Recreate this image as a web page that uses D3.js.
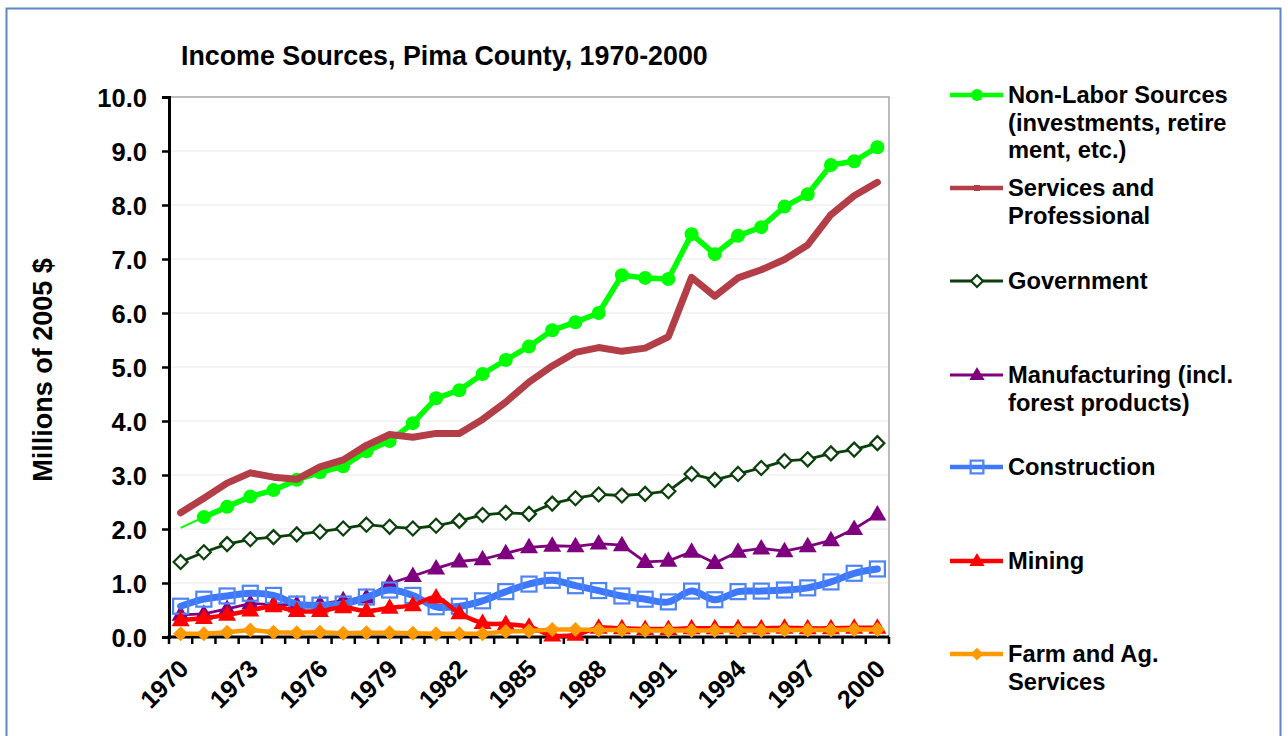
<!DOCTYPE html>
<html>
<head>
<meta charset="utf-8">
<script src="https://cdn.jsdelivr.net/npm/d3@7"></script>
<style>
  body { margin: 0; background: #fff; }
  svg text { font-family: Arial, "Liberation Sans", sans-serif; font-weight: bold; fill: #000; }
</style>
</head>
<body>
<div class="chart"></div>
<script>
// income data, millions of 2005 $
var years = d3.range(1970, 2001);
var tickYears = [1970, 1973, 1976, 1979, 1982, 1985, 1988, 1991, 1994, 1997, 2000];
var yTicks = [0, 1, 2, 3, 4, 5, 6, 7, 8, 9, 10];

var nonLabor = [2.02, 2.22, 2.41, 2.60, 2.72, 2.91, 3.05, 3.16, 3.44, 3.63, 3.96, 4.42, 4.57, 4.87, 5.13, 5.38,
    5.68, 5.83, 6.00, 6.70, 6.65, 6.63, 7.46, 7.09, 7.43, 7.59, 7.97, 8.20, 8.74, 8.81, 9.07];
var services = [2.30, 2.57, 2.85, 3.04, 2.96, 2.92, 3.15, 3.28, 3.55, 3.75, 3.70, 3.77, 3.77, 4.03, 4.35, 4.72,
    5.02, 5.27, 5.36, 5.29, 5.35, 5.56, 6.66, 6.31, 6.65, 6.80, 6.99, 7.26, 7.82, 8.17, 8.42];
var government = [1.39, 1.57, 1.72, 1.81, 1.85, 1.90, 1.95, 2.01, 2.08, 2.04, 2.01, 2.06, 2.15, 2.26, 2.30, 2.28,
    2.47, 2.57, 2.64, 2.62, 2.65, 2.70, 3.02, 2.91, 3.02, 3.13, 3.26, 3.29, 3.40, 3.47, 3.59];
var manufacturing = [0.41, 0.43, 0.52, 0.62, 0.60, 0.60, 0.61, 0.68, 0.73, 0.99, 1.13, 1.27, 1.40, 1.44, 1.55, 1.66,
    1.69, 1.68, 1.73, 1.70, 1.39, 1.41, 1.58, 1.37, 1.58, 1.64, 1.59, 1.68, 1.79, 2.00, 2.27];
var construction = [0.57, 0.70, 0.76, 0.81, 0.77, 0.61, 0.59, 0.61, 0.74, 0.87, 0.77, 0.56, 0.57, 0.67, 0.84, 0.98,
    1.05, 0.95, 0.86, 0.76, 0.70, 0.65, 0.85, 0.69, 0.84, 0.85, 0.87, 0.91, 1.02, 1.18, 1.26];
var mining = [0.31, 0.35, 0.41, 0.49, 0.57, 0.48, 0.48, 0.55, 0.48, 0.54, 0.59, 0.73, 0.44, 0.26, 0.24, 0.19,
    0.03, 0.04, 0.17, 0.16, 0.15, 0.15, 0.16, 0.16, 0.16, 0.16, 0.17, 0.16, 0.16, 0.17, 0.17];
var farm = [0.06, 0.06, 0.09, 0.13, 0.09, 0.08, 0.09, 0.07, 0.08, 0.08, 0.07, 0.06, 0.06, 0.06, 0.10, 0.11,
    0.14, 0.14, 0.13, 0.13, 0.12, 0.12, 0.12, 0.12, 0.12, 0.12, 0.13, 0.13, 0.13, 0.14, 0.14];

var series = [
    { name: ["Non-Labor Sources", "(investments, retire", "ment, etc.)"], values: nonLabor, color: "#00ff00", width: 5.5, marker: "circle", ly: 95 },
    { name: ["Services and", "Professional"], values: services, color: "#b33e47", width: 7, marker: "none", ly: 188 },
    { name: ["Government"], values: government, color: "#0b3f0b", width: 2.8, marker: "diamondOpen", ly: 281 },
    { name: ["Manufacturing (incl.", "forest products)"], values: manufacturing, color: "#7f007f", width: 2.8, marker: "triangle", ly: 375 },
    { name: ["Construction"], values: construction, color: "#3d78ff", width: 7, marker: "squareOpen", smooth: true, ly: 467 },
    { name: ["Mining"], values: mining, color: "#ff0000", width: 4.5, marker: "triangle", smooth: true, ly: 561 },
    { name: ["Farm and Ag.", "Services"], values: farm, color: "#ff9900", width: 4.5, marker: "diamond", ly: 654 }
];

var W = 1288, H = 736;
var margin = { top: 97, left: 169, right: 889, bottom: 637 };

var svg = d3.select(".chart").append("svg")
    .attr("width", W).attr("height", H);

// outer frame
svg.append("rect")
    .attr("x", 6.5).attr("y", 8.5).attr("width", 1274).attr("height", 740)
    .attr("fill", "none").attr("stroke", "#5b87c6").attr("stroke-width", 2);

var x = d3.scaleBand().domain(years).range([margin.left, margin.right]);
var cx = function (yr) { return x(yr) + x.bandwidth() / 2; };
var y = d3.scaleLinear().domain([0, 10]).range([margin.bottom, margin.top]);

// gridlines
svg.append("g").selectAll("line").data(yTicks.slice(1, -1)).join("line")
    .attr("x1", margin.left).attr("x2", margin.right)
    .attr("y1", function (d) { return y(d); }).attr("y2", function (d) { return y(d); })
    .attr("stroke", "#f0f0f0").attr("stroke-width", 1.5);

// plot border top/right
svg.append("path")
    .attr("d", "M" + margin.left + "," + y(10) + "H" + margin.right + "V" + y(0))
    .attr("fill", "none").attr("stroke", "#a6a6a6").attr("stroke-width", 1.5);

// y axis
var yAxis = svg.append("g")
    .attr("transform", "translate(" + margin.left + ",0)")
    .call(d3.axisLeft(y).tickValues(yTicks).tickFormat(d3.format(".1f")).tickSize(7).tickPadding(15));
yAxis.select(".domain").attr("stroke", "#000").attr("stroke-width", 3);
yAxis.selectAll(".tick line").attr("stroke", "#000").attr("stroke-width", 2.5);
yAxis.selectAll("text").style("font-size", "25.5px").attr("fill", "#000").attr("dy", "0.36em");

// x axis: ticks on category boundaries
var xg = svg.append("g");
xg.append("line")
    .attr("x1", margin.left - 1.5).attr("x2", margin.right)
    .attr("y1", y(0)).attr("y2", y(0))
    .attr("stroke", "#000").attr("stroke-width", 3);
xg.selectAll(".xt").data(years.concat([2001])).join("line")
    .attr("class", "xt")
    .attr("x1", function (d) { return d === 2001 ? margin.right : x(d); })
    .attr("x2", function (d) { return d === 2001 ? margin.right : x(d); })
    .attr("y1", y(0)).attr("y2", y(0) + 7)
    .attr("stroke", "#000").attr("stroke-width", 2.5);
xg.selectAll(".xl").data(tickYears).join("text")
    .attr("class", "xl")
    .attr("transform", function (d) { return "translate(" + (cx(d) - 3) + "," + (y(0) + 21) + ") rotate(-45)"; })
    .attr("text-anchor", "end")
    .attr("dy", "0.7em")
    .style("font-size", "25px")
    .text(function (d) { return d; });

// titles
svg.append("text")
    .attr("x", 181).attr("y", 65)
    .style("font-size", "26.8px")
    .text("Income Sources, Pima County, 1970-2000");

svg.append("text")
    .attr("transform", "translate(52,370) rotate(-90)")
    .attr("text-anchor", "middle")
    .style("font-size", "27px")
    .text("Millions of 2005 $");

function drawMarker(g, type, px, py, color, s) {
    s = s || 1;
    if (type === "circle") {
        g.append("circle").attr("cx", px).attr("cy", py).attr("r", 7 * s).attr("fill", color);
    } else if (type === "diamondOpen") {
        g.append("path").attr("d", "M" + px + "," + (py - 7 * s) + "l" + 7 * s + "," + 7 * s + "l" + (-7 * s) + "," + 7 * s + "l" + (-7 * s) + "," + (-7 * s) + "Z")
            .attr("fill", "#fff").attr("stroke", color).attr("stroke-width", 2.2);
    } else if (type === "diamond") {
        g.append("path").attr("d", "M" + px + "," + (py - 7.5 * s) + "l" + 7.5 * s + "," + 7.5 * s + "l" + (-7.5 * s) + "," + 7.5 * s + "l" + (-7.5 * s) + "," + (-7.5 * s) + "Z")
            .attr("fill", color);
    } else if (type === "triangle") {
        g.append("path").attr("d", "M" + px + "," + (py - 9.5 * s) + "L" + (px + 9 * s) + "," + (py + 6 * s) + "L" + (px - 9 * s) + "," + (py + 6 * s) + "Z")
            .attr("fill", color);
    } else if (type === "squareOpen") {
        g.append("rect").attr("x", px - 7.5 * s).attr("y", py - 7.5 * s).attr("width", 15 * s).attr("height", 15 * s)
            .attr("fill", "none").attr("stroke", "#4d84f5").attr("stroke-width", 2.2);
    } else if (type === "square") {
        g.append("rect").attr("x", px - 3).attr("y", py - 3).attr("width", 6).attr("height", 6).attr("fill", color);
    }
}

// series lines + markers
series.forEach(function (s, k) {
    var g = svg.append("g").attr("class", "series-" + k);
    var pts = s.values.map(function (v, i) { return [cx(years[i]), y(v)]; });
    var line = d3.line().curve(s.smooth ? d3.curveCardinal.tension(0) : d3.curveLinear);
    var start = 0;
    if (k === 0) {
        // first segment of non-labor is thin, no marker on 1970
        g.append("path").attr("d", d3.line()(pts.slice(0, 2)))
            .attr("stroke", s.color).attr("stroke-width", 2).attr("fill", "none");
        start = 1;
    }
    g.append("path").attr("d", line(pts.slice(start)))
        .attr("stroke", s.color).attr("stroke-width", s.width).attr("fill", "none")
        .attr("stroke-linejoin", "round").attr("stroke-linecap", "round");
    for (var i = start; i < pts.length; ++i) {
        drawMarker(g, s.marker, pts[i][0], pts[i][1], s.color);
    }
});

// legend
var lg = svg.append("g").attr("class", "legend");
series.forEach(function (s) {
    lg.append("line")
        .attr("x1", 950).attr("x2", 1003).attr("y1", s.ly).attr("y2", s.ly)
        .attr("stroke", s.color).attr("stroke-width", Math.min(s.width, 4.5));
    drawMarker(lg, s.marker === "none" ? "square" : s.marker, 977, s.ly, s.color, 0.85);
    s.name.forEach(function (t, j) {
        lg.append("text")
            .attr("x", 1008).attr("y", s.ly + 8 + j * 27.5)
            .style("font-size", "23.7px")
            .text(t);
    });
});
</script>
</body>
</html>
